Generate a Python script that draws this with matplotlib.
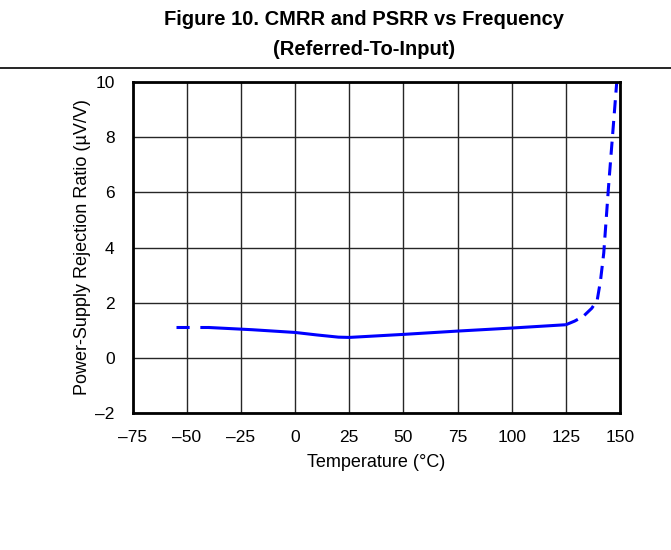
#!/usr/bin/env python3
import matplotlib
matplotlib.use("Agg")
import matplotlib.pyplot as plt
from matplotlib.lines import Line2D

# Temperature (deg C) and PSRR (uV/V)
temp_lo = [-55, -40]
psrr_lo = [1.1, 1.1]

temp_mid = [-40, -20, 0, 10, 20, 25, 50, 75, 100, 125]
psrr_mid = [1.1, 1.02, 0.92, 0.83, 0.75, 0.74, 0.85, 0.97, 1.08, 1.2]

temp_hi = [125, 129, 133, 137, 139.5, 141, 142.5, 144.7, 146.5, 148.5]
psrr_hi = [1.2, 1.33, 1.5, 1.8, 2.1, 2.8, 3.8, 6.2, 8.0, 10.0]

xticks = [-75, -50, -25, 0, 25, 50, 75, 100, 125, 150]
yticks = [-2, 0, 2, 4, 6, 8, 10]

plt.rcParams['font.family'] = ['Liberation Sans', 'DejaVu Sans']

W, H = 671, 550
fig = plt.figure(figsize=(W / 100, H / 100), dpi=100)
ax = fig.add_axes([132.7 / W, 1 - 413 / H, (620 - 132.7) / W, (413 - 82) / H])

ax.plot(temp_lo, psrr_lo, color='#0000ff', lw=2.2, dashes=(4.3, 3.5))
ax.plot(temp_mid, psrr_mid, color='#0000ff', lw=2.2, solid_capstyle='butt')
ax.plot(temp_hi, psrr_hi, color='#0000ff', lw=2.2, dashes=(4.3, 2.5))

ax.set_xlim(-75, 150)
ax.set_ylim(-2, 10)
ax.set_xticks(xticks)
ax.set_yticks(yticks)
ax.set_xticklabels([f"{t}".replace('-', '\u2013') for t in xticks], fontsize=12.5)
ax.set_yticklabels([f"{t}".replace('-', '\u2013') for t in yticks], fontsize=12.5)
ax.tick_params(axis='x', length=0, pad=12)
ax.tick_params(axis='y', length=0, pad=13)
ax.grid(True, color='0.15', linewidth=1.0)
for s in ax.spines.values():
    s.set_linewidth(2.0)

ax.set_xlabel('Temperature (°C)', fontsize=13, labelpad=7)
ax.set_ylabel('Power-Supply Rejection Ratio (\u00b5V/V)', fontsize=13, labelpad=3)

# two-line title and the rule under it
fig.text(364 / W, 1 - 25 / H, 'Figure 10. CMRR and PSRR vs Frequency',
         ha='center', va='baseline', fontsize=14.5, fontweight='bold')
fig.text(364 / W, 1 - 55 / H, '(Referred-To-Input)',
         ha='center', va='baseline', fontsize=14.5, fontweight='bold')
fig.add_artist(Line2D([0, 1], [1 - 68 / H, 1 - 68 / H], color='black', lw=1.2,
                      transform=fig.transFigure))

fig.savefig('out.png', dpi=100)
